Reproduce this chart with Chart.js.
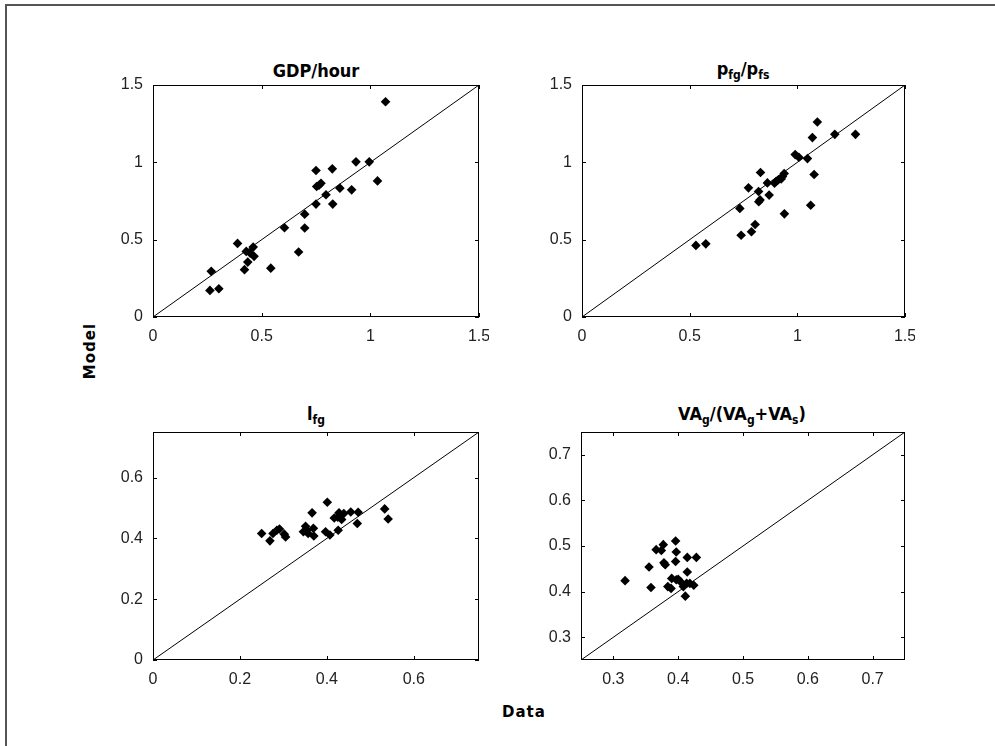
<!DOCTYPE html>
<html>
<head>
<meta charset="utf-8">
<script src="https://cdn.jsdelivr.net/npm/chart.js@4.4.0/dist/chart.umd.min.js"></script>
<style>
  body { margin: 0; background: #fff; width: 995px; height: 746px; position: relative; overflow: hidden; }
  .frame { position: absolute; left: 5px; top: 4px; width: 1000px; height: 800px; border-left: 2px solid #555; border-top: 2px solid #555; }
  .box { position: absolute; }
  .ttl { position: absolute; font-family: "Liberation Sans Narrow", "DejaVu Sans Condensed", sans-serif; font-weight: bold; font-size: 18px; color: #000; transform: translateX(-50%); white-space: nowrap; }
  .ttl sub { font-size: 12px; vertical-align: -4px; }
  .lbl { position: absolute; font-family: "DejaVu Sans", sans-serif; font-weight: bold; font-size: 15px; color: #000; letter-spacing: 1px; }
</style>
</head>
<body>
<div class="frame"></div>

<div class="ttl" style="left:316px; top:60px;">GDP/hour</div>
<div class="ttl" style="left:743px; top:58px;">p<sub>fg</sub>/p<sub>fs</sub></div>
<div class="ttl" style="left:316px; top:403px;">l<sub>fg</sub></div>
<div class="ttl" style="left:742px; top:403px;">VA<sub>g</sub>/(VA<sub>g</sub>+VA<sub>s</sub>)</div>

<div class="lbl" style="left:62px; top:342px; transform: rotate(-90deg);">Model</div>
<div class="lbl" style="left:502px; top:703px;">Data</div>

<div class="box" style="left:93px; top:75px; width:396px; height:282px;"><canvas id="c1"></canvas></div>
<div class="box" style="left:522px; top:75px; width:393px; height:282px;"><canvas id="c2"></canvas></div>
<div class="box" style="left:93px; top:422px; width:396px; height:278px;"><canvas id="c3"></canvas></div>
<div class="box" style="left:521px; top:422px; width:394px; height:278px;"><canvas id="c4"></canvas></div>

<script>
// GDP/hour: data vs model
let gdpData  = [1.07, 0.934, 0.995, 1.033, 0.75, 0.825, 0.753, 0.773, 0.764, 0.86, 0.914, 0.796, 0.75, 0.827, 0.698, 0.698, 0.605, 0.67, 0.389, 0.461, 0.429, 0.447, 0.465, 0.436, 0.421, 0.542, 0.268, 0.262, 0.303];
let gdpModel = [1.392, 1.003, 1.003, 0.88, 0.947, 0.958, 0.844, 0.865, 0.852, 0.833, 0.822, 0.79, 0.73, 0.73, 0.665, 0.575, 0.577, 0.42, 0.476, 0.452, 0.424, 0.413, 0.392, 0.355, 0.306, 0.316, 0.295, 0.172, 0.183];

// p_fg / p_fs
let priceData  = [1.093, 1.07, 1.174, 1.27, 0.99, 1.007, 1.047, 1.078, 1.062, 0.829, 0.773, 0.82, 0.861, 0.894, 0.912, 0.931, 0.939, 0.925, 0.901, 0.869, 0.827, 0.821, 0.733, 0.94, 0.804, 0.787, 0.739, 0.529, 0.575];
let priceModel = [1.261, 1.16, 1.181, 1.181, 1.05, 1.033, 1.024, 0.921, 0.723, 0.934, 0.835, 0.811, 0.867, 0.865, 0.887, 0.908, 0.928, 0.893, 0.876, 0.788, 0.757, 0.745, 0.702, 0.667, 0.598, 0.551, 0.529, 0.463, 0.473];

// l_fg
let labData  = [0.25, 0.269, 0.276, 0.285, 0.291, 0.302, 0.305, 0.346, 0.351, 0.354, 0.357, 0.366, 0.369, 0.37, 0.401, 0.397, 0.407, 0.417, 0.425, 0.428, 0.426, 0.439, 0.455, 0.472, 0.47, 0.533, 0.541, 0.434];
let labModel = [0.416, 0.392, 0.416, 0.427, 0.431, 0.414, 0.405, 0.422, 0.44, 0.427, 0.416, 0.484, 0.433, 0.408, 0.519, 0.422, 0.411, 0.467, 0.47, 0.484, 0.427, 0.482, 0.487, 0.486, 0.449, 0.497, 0.464, 0.462];

// VA_g / (VA_g + VA_s)
let vaData  = [0.318, 0.358, 0.355, 0.366, 0.374, 0.377, 0.378, 0.38, 0.396, 0.397, 0.396, 0.414, 0.428, 0.414, 0.39, 0.384, 0.389, 0.4, 0.404, 0.408, 0.411, 0.413, 0.418, 0.424, 0.397];
let vaModel = [0.424, 0.409, 0.454, 0.492, 0.49, 0.503, 0.463, 0.459, 0.511, 0.487, 0.466, 0.475, 0.475, 0.443, 0.429, 0.411, 0.407, 0.427, 0.421, 0.411, 0.39, 0.418, 0.418, 0.414, 0.426];

let ticksWide  = [0, 0.5, 1, 1.5];
let ticksSmall = [0, 0.2, 0.4, 0.6];
let ticksVA    = [0.3, 0.4, 0.5, 0.6, 0.7];

let tickFont = { family: "'Liberation Sans', Arial, sans-serif", size: 16 };

// box around the plot area + MATLAB style inward ticks on all sides
const boxPlugin = {
    id: "box",
    afterDraw(chart) {
        let ctx = chart.ctx, a = chart.chartArea;
        let xs = chart.scales.x, ys = chart.scales.y;
        ctx.save();
        ctx.strokeStyle = "#000";
        ctx.lineWidth = 1;
        ctx.strokeRect(a.left + 0.5, a.top + 0.5, a.right - a.left - 1, a.bottom - a.top - 1);
        ctx.beginPath();
        xs.ticks.forEach(t => {
            let px = Math.round(xs.getPixelForValue(t.value)) + 0.5;
            ctx.moveTo(px, a.bottom); ctx.lineTo(px, a.bottom - 4);
            ctx.moveTo(px, a.top); ctx.lineTo(px, a.top + 4);
        });
        ys.ticks.forEach(t => {
            let py = Math.round(ys.getPixelForValue(t.value)) + 0.5;
            ctx.moveTo(a.left, py); ctx.lineTo(a.left + 4, py);
            ctx.moveTo(a.right, py); ctx.lineTo(a.right - 4, py);
        });
        ctx.stroke();
        ctx.restore();
    }
};

function makeScale(min, max, ticks, isX) {
    return {
        type: "linear",
        min: min,
        max: max,
        grid: { display: false, drawTicks: false },
        border: { display: false },
        afterBuildTicks: s => { s.ticks = ticks.map(v => ({ value: v })); },
        afterFit: s => {
            // fixed axis size, no extra room for overhanging labels
            if (isX) { s.height = 40; s.paddingLeft = 0; s.paddingRight = 0; }
            else { s.width = 60; s.paddingTop = 0; s.paddingBottom = 0; }
        },
        ticks: {
            color: "#222",
            font: tickFont,
            padding: 10,
            maxRotation: 0,
            autoSkip: false,
            callback: v => String(v)
        }
    };
}

function scatterPlot(id, xs, ys, min, max, ticks) {
    let pts = xs.map((x, i) => ({ x: x, y: ys[i] }));
    new Chart(document.getElementById(id), {
        type: "scatter",
        data: {
            datasets: [
                {
                    type: "line",
                    data: [{ x: min, y: min }, { x: max, y: max }],
                    borderColor: "#000",
                    borderWidth: 1,
                    pointRadius: 0,
                    fill: false
                },
                {
                    data: pts,
                    pointStyle: "rectRot",
                    pointRadius: 4.8,
                    backgroundColor: "#000",
                    borderColor: "#000",
                    borderWidth: 0
                }
            ]
        },
        options: {
            responsive: true,
            maintainAspectRatio: false,
            animation: false,
            layout: { padding: { top: 10, right: 10, left: 0, bottom: 0 } },
            plugins: { legend: { display: false }, tooltip: { enabled: false } },
            scales: {
                x: makeScale(min, max, ticks, true),
                y: makeScale(min, max, ticks, false)
            }
        },
        plugins: [boxPlugin]
    });
}

scatterPlot("c1", gdpData, gdpModel, 0, 1.5, ticksWide);
scatterPlot("c2", priceData, priceModel, 0, 1.5, ticksWide);
scatterPlot("c3", labData, labModel, 0, 0.75, ticksSmall);
scatterPlot("c4", vaData, vaModel, 0.25, 0.75, ticksVA);
</script>
</body>
</html>
